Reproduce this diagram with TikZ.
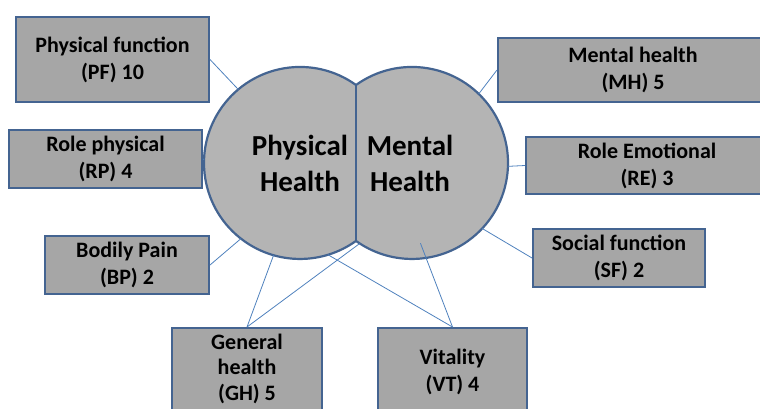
\documentclass[tikz,border=0pt]{standalone}
\usepackage{fontspec}
\setmainfont{Carlito}
\usetikzlibrary{calc}
\definecolor{boxgray}{RGB}{166,166,166}
\definecolor{discgray}{RGB}{180,180,180}
\definecolor{rim}{RGB}{68,100,145}
\definecolor{link}{RGB}{79,129,189}

\begin{document}
\begin{tikzpicture}[x = 1pt, y = 1pt]
\tikzstyle{BoxStyle}=[shape = rectangle,
                      draw = rim,
                      line width = 2pt,
                      fill = boxgray,
                      align = center,
                      inner sep = 0pt,
                      font = \fontsize{22}{27}\selectfont\bfseries]
\tikzstyle{DiscStyle}=[shape = circle, fill = discgray, minimum size = 192pt,
                       inner sep = 0pt, outer sep = 0pt]
\tikzstyle{LabelStyle}=[align = center, font = \fontsize{29}{36}\selectfont\bfseries]
\tikzstyle{RimStyle}=[draw = rim, line width = 2.2pt]
\tikzstyle{LinkStyle}=[draw = link, line width = 0.8pt]
\useasboundingbox (0,0) rectangle (760,408);
% the two health discs
\node[DiscStyle] (phys) at (300,245) {};
\node[DiscStyle] (ment) at (412,245) {};
\coordinate (top) at (356,323);
\coordinate (bot) at (356,167);
\draw[RimStyle] (top) arc[start angle = 54.3, end angle = 305.7, radius = 96pt];
\draw[RimStyle] (top) arc[start angle = 125.7, end angle = -125.7, radius = 96pt];
\draw[RimStyle] (top) -- (bot);
\node[LabelStyle] (physlabel) at (300,245) {Physical\\Health};
\node[LabelStyle] (mentlabel) at (410,245) {Mental\\Health};
\coordinate (vtin) at ($(ment)!0.84!(ment.276)$);
% boxes
\node[BoxStyle, minimum width = 193pt, minimum height = 85pt] (pf) at (112.5,348.5) {Physical function\\(PF) 10};
\node[BoxStyle, minimum width = 193pt, minimum height = 58pt] (rp) at (105.5,249) {Role physical\\(RP) 4};
\node[BoxStyle, minimum width = 164pt, minimum height = 58pt] (bp) at (127,143) {Bodily Pain\\(BP) 2};
\node[BoxStyle, minimum width = 150pt, minimum height = 88pt,
      font = \fontsize{22}{25.5}\selectfont\bfseries, text depth = 10pt] (gh) at (247,36) {General\\health\\(GH) 5};
\node[BoxStyle, minimum width = 149pt, minimum height = 88pt] (vt) at (452.5,36) {Vitality\\(VT) 4};
\node[BoxStyle, minimum width = 172pt, minimum height = 58pt] (sf) at (619,150) {Social function\\(SF) 2};
\node[BoxStyle, minimum width = 270pt, minimum height = 64pt] (mh) at (633,338) {Mental health\\(MH) 5};
\node[BoxStyle, minimum width = 242pt, minimum height = 57pt] (re) at (647,242.5) {Role Emotional\\(RE) 3};
% links
\draw[LinkStyle] (pf.east) -- (phys.130);
\draw[LinkStyle] (rp.east) -- (phys.178);
\draw[LinkStyle] (mh.west) -- (ment.46);
\draw[LinkStyle] (re.west) -- (ment.-2);
\draw[LinkStyle] (bp.east) -- (phys.232);
\draw[LinkStyle] (gh.north) -- (phys.254);
\draw[LinkStyle] (gh.north) -- (ment.237);
\draw[LinkStyle] (vt.north) -- (vtin);
\draw[LinkStyle] (vt.north) -- (phys.287);
\draw[LinkStyle] (sf.west) -- (ment.-43);
\end{tikzpicture}
\end{document}
